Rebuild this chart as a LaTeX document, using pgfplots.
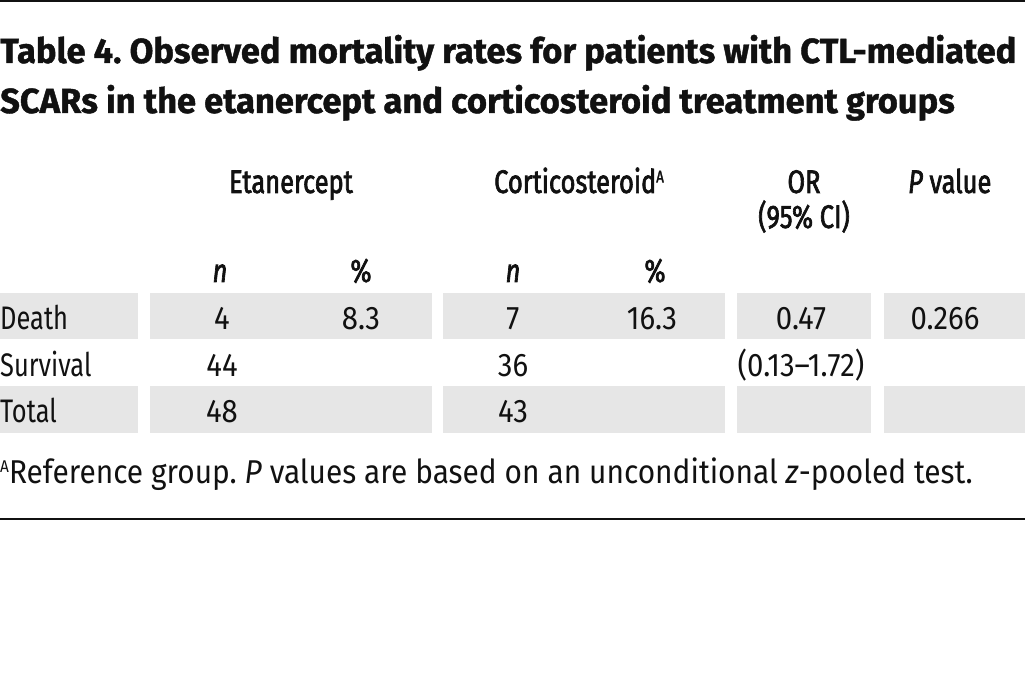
\documentclass[border=0pt]{standalone}
\usepackage{fontspec}
\setmainfont{Fira Sans}[FakeStretch=0.78]
\newfontfamily\titlefont{Fira Sans}[FakeStretch=0.99,FakeBold=1.2]
\newfontfamily\headfont{Fira Sans}[FakeStretch=0.78,FakeBold=2]
\newfontfamily\numfont{Fira Sans}[FakeStretch=0.90]
\newfontfamily\notefont{Fira Sans}[FakeStretch=0.905]
\usepackage{pgfplots}
\pgfplotsset{compat=1.18}
\definecolor{cellgray}{HTML}{E6E6E6}
\definecolor{ink}{HTML}{111111}
\newcommand{\sA}{\raisebox{10.5pt}{\fontsize{17}{20}\selectfont A}}
\frenchspacing
\begin{document}
\frenchspacing
\begin{tikzpicture}
\begin{axis}[width=1025pt,height=684pt,scale only axis,
  xmin=0,xmax=1025,ymin=0,ymax=684,y dir=reverse,hide axis,clip=false]
% rules
\draw[ink,line width=2pt] (axis cs:0,1) -- (axis cs:1025,1);
\draw[ink,line width=2pt] (axis cs:0,519) -- (axis cs:1025,519);
% shaded cells: Death row and Total row
\fill[cellgray] (axis cs:0,293) rectangle (axis cs:138,339);
\fill[cellgray] (axis cs:150,293) rectangle (axis cs:432,339);
\fill[cellgray] (axis cs:443,293) rectangle (axis cs:725,339);
\fill[cellgray] (axis cs:737,293) rectangle (axis cs:871,339);
\fill[cellgray] (axis cs:884,293) rectangle (axis cs:1025,339);
\fill[cellgray] (axis cs:0,386) rectangle (axis cs:138,433);
\fill[cellgray] (axis cs:150,386) rectangle (axis cs:432,433);
\fill[cellgray] (axis cs:443,386) rectangle (axis cs:725,433);
\fill[cellgray] (axis cs:737,386) rectangle (axis cs:871,433);
\fill[cellgray] (axis cs:884,386) rectangle (axis cs:1025,433);
% title
\node[anchor=base west,inner sep=0,text=ink,font=\titlefont\bfseries\fontsize{34.8}{40}\selectfont]
  at (axis cs:0,63) {Table 4. Observed mortality rates for patients with CTL-mediated};
\node[anchor=base west,inner sep=0,text=ink,font=\titlefont\bfseries\fontsize{34.8}{40}\selectfont]
  at (axis cs:0,113) {SCARs in the etanercept and corticosteroid treatment groups};
% headers
\tikzset{hd/.style={anchor=base,inner sep=0,text=ink,font=\headfont\fontsize{32.6}{38}\selectfont}}
\node[hd] at (axis cs:291,193) {Etanercept};
\node[hd,anchor=base west] at (axis cs:494,193) {Corticosteroid\sA};
\node[hd] at (axis cs:804,193) {OR};
\node[hd] at (axis cs:804,228) {(95\% CI)};
\node[hd,anchor=base west] at (axis cs:908,193) {\itshape P\upshape\ value};
\node[hd] at (axis cs:220,282) {\itshape n};
\node[hd] at (axis cs:361,282) {\%};
\node[hd] at (axis cs:513,282) {\itshape n};
\node[hd] at (axis cs:655,282) {\%};
% body
\tikzset{bd/.style={anchor=base,inner sep=0,text=ink,font=\numfont\fontsize{32.6}{38}\selectfont},
         lb/.style={anchor=base west,inner sep=0,text=ink,font=\fontsize{32.6}{38}\selectfont}}
\node[lb] at (axis cs:0,330) {Death};
\node[lb] at (axis cs:0,377) {Survival};
\node[lb] at (axis cs:0,423) {Total};
\node[bd] at (axis cs:222,330) {4};
\node[bd] at (axis cs:361,330) {8.3};
\node[bd] at (axis cs:513,330) {7};
\node[bd] at (axis cs:652,330) {16.3};
\node[bd] at (axis cs:801,330) {0.47};
\node[bd] at (axis cs:945,330) {0.266};
\node[bd] at (axis cs:222,377) {44};
\node[bd] at (axis cs:513,377) {36};
\node[bd] at (axis cs:801,377) {(0.13–1.72)};
\node[bd] at (axis cs:222,423) {48};
\node[bd] at (axis cs:513,423) {43};
% footnote
\node[anchor=base west,inner sep=0,text=ink,font=\notefont\fontsize{33}{40}\selectfont]
  at (axis cs:0,483) {\sA Reference group. \textit{P} values are based on an unconditional \textit{z}-pooled test.};
\end{axis}
\pgfresetboundingbox
\path (current axis.south west) rectangle (current axis.north east);
\end{tikzpicture}
\end{document}
